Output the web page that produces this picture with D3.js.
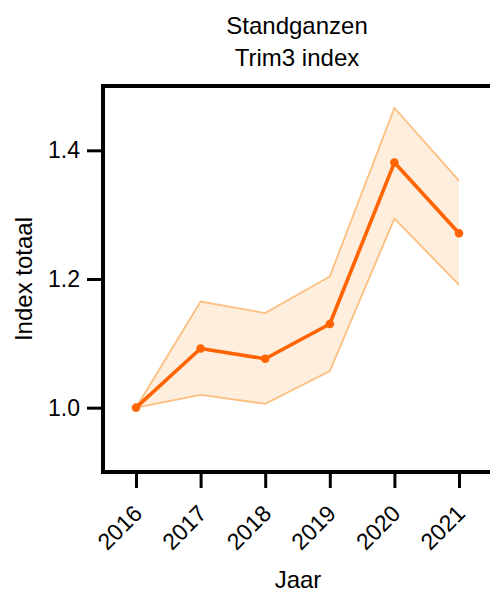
<!DOCTYPE html>
<html>
<head>
<meta charset="utf-8">
<script src="https://cdn.jsdelivr.net/npm/d3@7"></script>
<style>
  html, body { margin: 0; padding: 0; background: #fff; }
  svg { display: block; font-family: "Liberation Sans", Arial, Helvetica, sans-serif; }
</style>
</head>
<body>
<svg id="chart" width="490" height="592"></svg>
<script>
// Trim3 index for Standganzen, base year 2016 = 1.0
const years = [2016, 2017, 2018, 2019, 2020, 2021];
const indexValues = [1.0, 1.092, 1.076, 1.130, 1.381, 1.271];
const upperBound = [1.0, 1.165, 1.147, 1.204, 1.466, 1.353];
const lowerBound = [1.0, 1.020, 1.006, 1.057, 1.294, 1.191];
const yTicks = [1.0, 1.2, 1.4];

const svg = d3.select("#chart");
const plotLeft = 103, plotTop = 86, plotBottom = 472, plotRight = 492;

const x = d3.scalePoint().domain(years).range([136, 459]);
const y = d3.scaleLinear().domain([0.9, 1.5]).range([plotBottom, plotTop]);

const rows = years.map((yr, i) => ({ yr, v: indexValues[i], hi: upperBound[i], lo: lowerBound[i] }));

// confidence band
svg.append("path")
  .datum(rows)
  .attr("fill", "#fdeedd")
  .attr("d", d3.area().x(d => x(d.yr)).y0(d => y(d.lo)).y1(d => y(d.hi)));

["hi", "lo"].forEach(k => {
  svg.append("path")
    .datum(rows)
    .attr("fill", "none")
    .attr("stroke", "#fdbf80")
    .attr("stroke-width", 1.8)
    .attr("d", d3.line().x(d => x(d.yr)).y(d => y(d[k])));
});

// index line with markers
svg.append("path")
  .datum(rows)
  .attr("fill", "none")
  .attr("stroke", "#ff6400")
  .attr("stroke-width", 3.6)
  .attr("stroke-linejoin", "round")
  .attr("d", d3.line().x(d => x(d.yr)).y(d => y(d.v)));

svg.selectAll("circle.pt")
  .data(rows)
  .join("circle")
  .attr("class", "pt")
  .attr("cx", d => x(d.yr))
  .attr("cy", d => y(d.v))
  .attr("r", 4.3)
  .attr("fill", "#ff6400");

// frame: top and bottom lines, left axis
const frame = svg.append("g").attr("stroke", "#000").attr("stroke-width", 4).attr("fill", "none");
frame.append("line").attr("x1", plotLeft - 2).attr("x2", plotRight).attr("y1", plotTop).attr("y2", plotTop);
frame.append("line").attr("x1", plotLeft - 2).attr("x2", plotRight).attr("y1", plotBottom).attr("y2", plotBottom);
frame.append("line").attr("x1", plotLeft).attr("x2", plotLeft).attr("y1", plotTop - 2).attr("y2", plotBottom + 2);

// y axis
const yAxis = svg.append("g")
  .attr("transform", `translate(${plotLeft},0)`)
  .call(d3.axisLeft(y).tickValues(yTicks).tickFormat(d3.format(".1f")).tickSize(16).tickPadding(7));
yAxis.select(".domain").remove();
yAxis.selectAll(".tick line").attr("stroke", "#000").attr("stroke-width", 3);
yAxis.selectAll(".tick text")
  .attr("fill", "#000")
  .style("font-family", "'Liberation Sans', Arial, sans-serif")
  .style("font-size", "23px");

// x axis
const xAxis = svg.append("g")
  .attr("transform", `translate(0,${plotBottom})`)
  .call(d3.axisBottom(x).tickSize(16).tickFormat(d3.format("d")));
xAxis.select(".domain").remove();
xAxis.selectAll(".tick line").attr("stroke", "#000").attr("stroke-width", 3);
xAxis.selectAll(".tick text")
  .attr("fill", "#000")
  .style("font-family", "'Liberation Sans', Arial, sans-serif")
  .style("font-size", "23px")
  .attr("text-anchor", "end")
  .attr("dy", null)
  .attr("y", null)
  .attr("transform", "translate(7,43) rotate(-45)");

// titles
svg.append("text").attr("x", 297).attr("y", 34).attr("text-anchor", "middle")
  .style("font-size", "24px").text("Standganzen");
svg.append("text").attr("x", 297).attr("y", 66).attr("text-anchor", "middle")
  .style("font-size", "24px").text("Trim3 index");
svg.append("text").attr("transform", "translate(32,279) rotate(-90)").attr("text-anchor", "middle")
  .style("font-size", "24px").text("Index totaal");
svg.append("text").attr("x", 298).attr("y", 588).attr("text-anchor", "middle")
  .style("font-size", "24px").text("Jaar");
</script>
</body>
</html>
